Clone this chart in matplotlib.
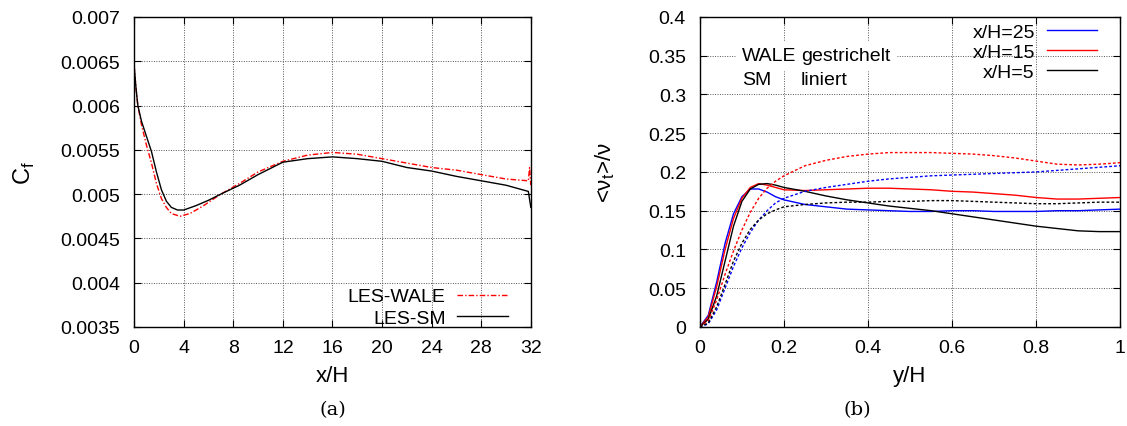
import matplotlib.pyplot as plt
from matplotlib.ticker import FixedLocator, FixedFormatter

plt.rcParams['font.family'] = ['Liberation Sans', 'DejaVu Sans']
plt.rcParams['mathtext.fontset'] = 'dejavusans'

# (a) skin friction along the wall
xh_sm = [0, 0.15, 0.3, 0.6, 1.0, 1.4, 1.8, 2.2, 2.6, 3.0, 3.5, 4.0, 5.0, 6.0, 7.0, 8.5, 10, 12, 14, 16, 18, 20, 22, 24, 26, 28, 30, 31.8, 32]
cf_sm = [0.00645, 0.0062, 0.006, 0.00582, 0.00565, 0.00548, 0.00525, 0.00505, 0.00492, 0.00485, 0.00482, 0.00482, 0.00487, 0.00493, 0.005, 0.0051, 0.00522, 0.00536, 0.0054, 0.00542, 0.0054, 0.00537, 0.0053, 0.00526, 0.0052, 0.00515, 0.0051, 0.00503, 0.00485]
xh_wale = [0, 0.15, 0.3, 0.6, 1.0, 1.4, 1.8, 2.2, 2.6, 3.0, 3.7, 4.5, 5.5, 7.0, 8.5, 10, 12, 14, 16, 18, 20, 22, 24, 26, 28, 30, 31.8, 31.9, 32]
cf_wale = [0.00645, 0.0062, 0.006, 0.00578, 0.00555, 0.00535, 0.00512, 0.00495, 0.00485, 0.00478, 0.00475, 0.00478, 0.00486, 0.005, 0.00512, 0.00525, 0.00537, 0.00544, 0.00547, 0.00545, 0.0054, 0.00535, 0.0053, 0.00527, 0.00522, 0.00517, 0.00515, 0.0053, 0.0051]

# (b) eddy viscosity profiles
yh = [0, 0.02, 0.04, 0.06, 0.08, 0.1, 0.12, 0.14, 0.16, 0.18, 0.2, 0.25, 0.3, 0.35, 0.4, 0.45, 0.5, 0.55, 0.6, 0.65, 0.7, 0.75, 0.8, 0.85, 0.9, 0.95, 1.0]
sm_25 = [0, 0.015, 0.058, 0.108, 0.146, 0.168, 0.178, 0.178, 0.174, 0.168, 0.164, 0.158, 0.155, 0.152, 0.151, 0.15, 0.149, 0.149, 0.15, 0.15, 0.149, 0.149, 0.149, 0.15, 0.15, 0.151, 0.152]
sm_15 = [0, 0.013, 0.052, 0.1, 0.14, 0.166, 0.18, 0.185, 0.183, 0.18, 0.177, 0.176, 0.177, 0.178, 0.179, 0.179, 0.178, 0.177, 0.175, 0.174, 0.172, 0.17, 0.167, 0.165, 0.165, 0.166, 0.167]
sm_5 = [0, 0.01, 0.04, 0.085, 0.13, 0.162, 0.178, 0.184, 0.185, 0.183, 0.18, 0.175, 0.169, 0.164, 0.16, 0.156, 0.153, 0.15, 0.146, 0.142, 0.138, 0.134, 0.13, 0.127, 0.124, 0.123, 0.123]
wale_25 = [0, 0.004, 0.022, 0.05, 0.078, 0.102, 0.122, 0.138, 0.15, 0.16, 0.166, 0.175, 0.18, 0.184, 0.188, 0.191, 0.193, 0.195, 0.196, 0.197, 0.198, 0.199, 0.2, 0.202, 0.204, 0.206, 0.208]
wale_15 = [0, 0.008, 0.035, 0.068, 0.098, 0.125, 0.148, 0.166, 0.179, 0.188, 0.195, 0.208, 0.215, 0.22, 0.223, 0.225, 0.225, 0.225, 0.224, 0.223, 0.221, 0.218, 0.214, 0.21, 0.209, 0.21, 0.212]
wale_5 = [0, 0.005, 0.026, 0.055, 0.085, 0.108, 0.126, 0.138, 0.146, 0.151, 0.155, 0.158, 0.16, 0.161, 0.161, 0.162, 0.162, 0.163, 0.163, 0.162, 0.161, 0.16, 0.159, 0.159, 0.16, 0.161, 0.161]

fig = plt.figure(figsize=(11.27, 4.27), dpi=100)
ax1 = fig.add_axes([0.119, 0.232, 0.352, 0.726])
ax2 = fig.add_axes([0.621, 0.232, 0.373, 0.726])

fs = 14

def style(ax):
    ax.grid(True, color='#555555', linestyle=(0, (1, 1.5)), linewidth=0.7)
    ax.tick_params(direction='in', top=True, right=True, labelsize=fs, length=5)
    ax.tick_params(axis='x', pad=9)
    ax.tick_params(axis='y', pad=10)
    for s in ax.spines.values():
        s.set_linewidth(1.0)

ax1.plot(xh_wale, cf_wale, color='red', lw=1.0, dashes=(4, 1.5, 1, 1.5), label='LES-WALE')
ax1.plot(xh_sm, cf_sm, color='black', lw=1.0, label='LES-SM')
ax1.set_xlim(0, 32)
ax1.set_ylim(0.0035, 0.007)
xt = [0, 4, 8, 12, 16, 20, 24, 28, 32]
yt = [0.0035, 0.004, 0.0045, 0.005, 0.0055, 0.006, 0.0065, 0.007]
ax1.xaxis.set_major_locator(FixedLocator(xt))
ax1.xaxis.set_major_formatter(FixedFormatter([str(v) for v in xt]))
ax1.yaxis.set_major_locator(FixedLocator(yt))
ax1.yaxis.set_major_formatter(FixedFormatter(['0.0035', '0.004', '0.0045', '0.005', '0.0055', '0.006', '0.0065', '0.007']))
ax1.set_xlabel('x/H', fontsize=16, labelpad=6)
ax1.set_ylabel('C$_\\mathregular{f}$', fontsize=17, labelpad=17)
style(ax1)
ax1.legend(loc='lower right', bbox_to_anchor=(0.942, 0.0), frameon=False, markerfirst=False,
           fontsize=fs, handlelength=2.6, handletextpad=0.6, borderpad=0, borderaxespad=0,
           labelspacing=0.2)

ax2.plot(yh, sm_25, color='blue', lw=1.0, label='x/H=25')
ax2.plot(yh, sm_15, color='red', lw=1.0, label='x/H=15')
ax2.plot(yh, sm_5, color='black', lw=1.0, label='x/H=5')
ax2.plot(yh, wale_25, color='blue', lw=1.0, dashes=(2, 1.5))
ax2.plot(yh, wale_15, color='red', lw=1.0, dashes=(2, 1.5))
ax2.plot(yh, wale_5, color='black', lw=1.0, dashes=(2, 1.5))
ax2.set_xlim(0, 1)
ax2.set_ylim(0, 0.4)
xt2 = [0, 0.2, 0.4, 0.6, 0.8, 1]
yt2 = [0, 0.05, 0.1, 0.15, 0.2, 0.25, 0.3, 0.35, 0.4]
ax2.xaxis.set_major_locator(FixedLocator(xt2))
ax2.xaxis.set_major_formatter(FixedFormatter(['0', '0.2', '0.4', '0.6', '0.8', '1']))
ax2.yaxis.set_major_locator(FixedLocator(yt2))
ax2.yaxis.set_major_formatter(FixedFormatter(['0', '0.05', '0.1', '0.15', '0.2', '0.25', '0.3', '0.35', '0.4']))
ax2.set_xlabel('y/H', fontsize=16, labelpad=6)
ax2.set_ylabel('<ν$_\\mathregular{t}$>/ν', fontsize=16, labelpad=22)
style(ax2)
ax2.legend(loc='upper right', bbox_to_anchor=(0.945, 0.98), frameon=False, markerfirst=False,
           fontsize=fs, handlelength=2.6, handletextpad=0.6, borderpad=0, borderaxespad=0,
           labelspacing=0.12)
ax2.text(0.1, 0.35, 'WALE', fontsize=fs, va='center', backgroundcolor='white')
ax2.text(0.24, 0.35, 'gestrichelt', fontsize=fs, va='center', backgroundcolor='white')
ax2.text(0.1, 0.319, 'SM', fontsize=fs, va='center')
ax2.text(0.24, 0.319, 'liniert', fontsize=fs, va='center')

fig.text(333 / 1127, 1 - 410 / 427, '(a)', ha='center', va='center', fontsize=fs, family='DejaVu Serif')
fig.text(857 / 1127, 1 - 410 / 427, '(b)', ha='center', va='center', fontsize=fs, family='DejaVu Serif')

fig.savefig('out.png', dpi=100)
